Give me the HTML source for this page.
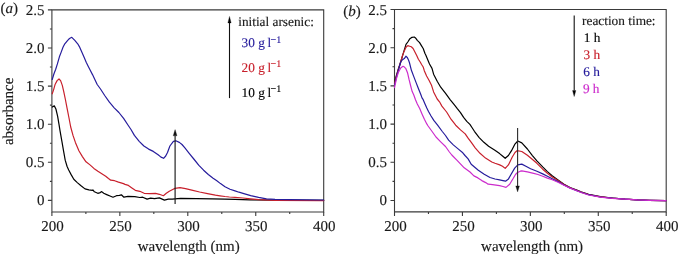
<!DOCTYPE html>
<html><head><meta charset="utf-8"><style>
html,body{margin:0;padding:0;background:#fff;width:678px;height:254px;overflow:hidden}
svg{display:block;will-change:transform}
svg text{text-rendering:geometricPrecision;stroke-width:0.15px;paint-order:stroke}
</style></head><body>
<svg width="678" height="254" viewBox="0 0 678 254" font-family="Liberation Serif, serif" font-size="15px" fill="#1a1a1a" stroke="none">
<path d="M51.9,9.9H323.7V212.0H51.9Z" fill="none" stroke="#3a3a3a" stroke-width="1.1"/>
<text x="52.50" y="231" text-anchor="middle" stroke="#1a1a1a">200</text>
<text x="120.45" y="231" text-anchor="middle" stroke="#1a1a1a">250</text>
<text x="188.40" y="231" text-anchor="middle" stroke="#1a1a1a">300</text>
<text x="256.35" y="231" text-anchor="middle" stroke="#1a1a1a">350</text>
<text x="324.30" y="231" text-anchor="middle" stroke="#1a1a1a">400</text>
<text x="44.40" y="204.75" text-anchor="end" stroke="#1a1a1a">0</text>
<text x="44.40" y="166.75" text-anchor="end" stroke="#1a1a1a">0.5</text>
<text x="44.40" y="128.75" text-anchor="end" stroke="#1a1a1a">1.0</text>
<text x="44.40" y="90.75" text-anchor="end" stroke="#1a1a1a">1.5</text>
<text x="44.40" y="52.75" text-anchor="end" stroke="#1a1a1a">2.0</text>
<text x="44.40" y="14.75" text-anchor="end" stroke="#1a1a1a">2.5</text>
<path d="M51.90,212.0v4 M85.88,212.0v2 M119.85,212.0v4 M153.82,212.0v2 M187.80,212.0v4 M221.78,212.0v2 M255.75,212.0v4 M289.72,212.0v2 M323.70,212.0v4 M51.9,200.40h-4 M51.9,181.35h-2 M51.9,162.30h-4 M51.9,143.25h-2 M51.9,124.20h-4 M51.9,105.15h-2 M51.9,86.10h-4 M51.9,67.05h-2 M51.9,48.00h-4 M51.9,28.95h-2 M51.9,9.90h-4" fill="none" stroke="#3a3a3a" stroke-width="1.1"/>
<text x="188.7" y="250.6" text-anchor="middle" stroke="#1a1a1a">wavelength (nm)</text>
<path d="M394.5,9.5H666.2V211.9H394.5Z" fill="none" stroke="#3a3a3a" stroke-width="1.1"/>
<text x="395.50" y="231" text-anchor="middle" stroke="#1a1a1a">200</text>
<text x="463.43" y="231" text-anchor="middle" stroke="#1a1a1a">250</text>
<text x="531.35" y="231" text-anchor="middle" stroke="#1a1a1a">300</text>
<text x="599.28" y="231" text-anchor="middle" stroke="#1a1a1a">350</text>
<text x="667.20" y="231" text-anchor="middle" stroke="#1a1a1a">400</text>
<text x="387.00" y="204.75" text-anchor="end" stroke="#1a1a1a">0</text>
<text x="387.00" y="166.75" text-anchor="end" stroke="#1a1a1a">0.5</text>
<text x="387.00" y="128.75" text-anchor="end" stroke="#1a1a1a">1.0</text>
<text x="387.00" y="90.75" text-anchor="end" stroke="#1a1a1a">1.5</text>
<text x="387.00" y="52.75" text-anchor="end" stroke="#1a1a1a">2.0</text>
<text x="387.00" y="14.75" text-anchor="end" stroke="#1a1a1a">2.5</text>
<path d="M394.50,211.9v4 M428.46,211.9v2 M462.43,211.9v4 M496.39,211.9v2 M530.35,211.9v4 M564.31,211.9v2 M598.28,211.9v4 M632.24,211.9v2 M666.20,211.9v4 M394.5,200.50h-4 M394.5,181.40h-2 M394.5,162.30h-4 M394.5,143.20h-2 M394.5,124.10h-4 M394.5,105.00h-2 M394.5,85.90h-4 M394.5,66.80h-2 M394.5,47.70h-4 M394.5,28.60h-2 M394.5,9.50h-4" fill="none" stroke="#3a3a3a" stroke-width="1.1"/>
<text x="532.1" y="250.6" text-anchor="middle" stroke="#1a1a1a">wavelength (nm)</text>
<text transform="translate(13.4,111.3) rotate(-90)" text-anchor="middle" stroke="#1a1a1a">absorbance</text>
<text x="0.5" y="12.9" stroke="#1a1a1a">(<tspan font-style="italic">a</tspan>)</text>
<text x="343.2" y="15.5" stroke="#1a1a1a">(<tspan font-style="italic">b</tspan>)</text>
<polyline points="52.2,107.0 54.3,105.9 55.9,109.0 57.6,116.1 59.0,124.3 60.0,130.6 61.9,141.3 63.5,150.7 65.2,160.2 67.1,166.5 68.7,170.0 71.0,174.4 73.8,179.3 77.3,182.6 80.7,185.5 85.0,188.9 88.9,189.8 92.4,190.3 92.9,189.8 94.4,191.8 97.8,193.3 100.3,192.6 101.7,191.6 103.7,193.3 106.7,194.6 110.6,196.2 113.0,197.2 116.5,195.7 119.4,195.3 121.4,194.8 123.9,197.2 128.0,196.3 134.8,196.6 139.8,197.5 142.7,197.2 147.1,199.1 150.6,198.2 154.5,198.7 159.4,197.9 164.4,200.1 168.3,199.2 172.2,199.2 175.0,198.8 180.7,198.4 196.5,198.7 212.2,198.8 225.0,199.1 235.0,199.4 250.0,199.8 275.0,200.1 323.7,200.3" fill="none" stroke="#000000" stroke-width="1.2" stroke-linejoin="round" stroke-linecap="round"/>
<polyline points="52.2,93.8 53.5,90.1 55.2,84.2 57.1,80.6 59.0,79.0 60.6,80.6 62.3,85.4 63.7,91.3 65.4,99.5 67.0,107.8 68.9,117.5 70.7,127.0 73.0,135.4 75.4,142.4 78.9,150.7 82.4,156.6 86.0,161.8 90.0,164.9 93.9,168.4 97.9,171.3 101.8,173.8 105.7,176.2 108.5,178.5 110.7,180.2 114.6,180.7 118.5,182.1 123.5,183.6 125.0,184.4 128.4,185.4 131.9,187.9 135.3,190.3 139.8,191.3 144.2,193.3 149.6,193.6 155.5,193.3 159.4,194.3 163.4,195.7 166.3,193.3 169.3,191.3 173.2,189.3 175.0,188.4 180.0,187.6 185.5,188.6 191.8,190.2 199.6,192.0 207.5,193.6 215.4,195.2 220.0,195.8 225.0,196.5 229.4,197.0 235.0,197.4 242.9,198.0 250.7,198.8 258.6,199.6 275.0,200.4 323.7,200.6" fill="none" stroke="#c8202c" stroke-width="1.2" stroke-linejoin="round" stroke-linecap="round"/>
<polyline points="52.2,79.5 53.9,74.0 55.7,69.2 57.4,63.9 59.4,56.8 61.2,52.1 63.0,47.3 64.8,43.8 67.7,40.3 69.5,38.5 71.8,37.3 74.8,40.3 77.7,43.8 79.8,47.4 81.9,52.3 84.1,57.3 86.2,62.3 88.3,66.5 90.5,70.8 92.5,74.6 97.2,84.5 100.5,89.0 104.7,95.5 109.4,102.2 114.2,107.8 118.9,112.5 123.6,118.4 128.3,125.5 131.0,129.5 134.4,135.4 139.2,141.3 143.9,146.0 148.6,149.1 153.3,151.4 158.1,154.8 161.0,157.1 163.6,158.3 165.7,156.0 167.5,152.5 169.9,146.0 173.4,141.3 175.8,140.8 179.3,142.4 182.0,144.5 184.7,147.7 189.4,153.6 194.2,159.5 198.9,165.4 203.6,170.2 208.3,174.5 213.1,178.2 216.5,180.5 220.5,183.6 225.0,186.8 230.0,189.2 235.0,190.9 239.0,192.2 243.0,193.3 250.7,195.6 258.6,197.4 266.5,198.8 275.0,199.3 290.0,199.6 323.7,200.0" fill="none" stroke="#261c9c" stroke-width="1.2" stroke-linejoin="round" stroke-linecap="round"/>
<polyline points="394.5,82.3 396.4,75.5 398.5,68.5 400.7,62.0 403.1,53.8 406.0,44.4 407.8,42.0 409.6,39.1 412.0,37.3 414.3,37.0 415.5,37.9 417.3,40.3 419.6,42.6 421.4,45.6 423.2,48.5 424.9,53.3 426.0,55.6 426.6,57.0 429.5,64.0 432.0,68.4 433.6,74.2 437.2,81.3 440.7,87.2 445.4,93.1 450.3,99.8 454.2,104.7 457.3,108.7 460.5,112.6 463.6,117.3 466.8,121.3 469.9,124.4 472.3,128.0 474.4,131.3 479.2,137.6 483.9,142.3 488.6,146.3 494.9,150.2 499.6,153.6 502.5,156.0 505.2,158.3 508.4,155.5 511.5,150.7 514.7,144.4 517.8,141.0 521.8,142.9 527.4,149.0 532.2,155.3 536.9,160.8 542.7,166.9 547.4,171.6 552.2,175.7 558.0,179.9 564.0,184.3 570.0,187.6 576.8,190.1 581.0,191.8 588.6,194.3 600.4,196.7 612.2,198.0 625.0,199.2 637.3,199.9 649.1,200.3 666.0,200.6" fill="none" stroke="#000000" stroke-width="1.2" stroke-linejoin="round" stroke-linecap="round"/>
<polyline points="394.5,83.5 396.4,76.5 398.5,69.0 400.7,62.0 402.5,55.6 404.3,50.9 406.0,47.3 407.8,45.6 409.6,46.2 411.3,46.8 413.1,48.5 414.9,52.1 416.7,55.6 418.4,59.2 420.2,62.0 421.6,64.5 423.2,67.0 424.3,70.7 426.6,76.0 429.0,80.2 431.4,84.9 433.6,91.9 437.2,99.0 439.5,101.8 441.9,106.1 446.6,112.0 448.3,114.8 451.0,119.2 455.7,125.2 460.5,129.9 465.2,133.9 468.1,138.2 471.3,142.3 475.2,147.8 480.0,153.3 485.5,158.1 491.8,162.0 495.0,163.3 499.7,164.9 502.5,166.3 505.2,168.4 508.4,164.9 512.3,157.0 515.0,152.5 517.0,150.7 521.8,151.5 527.4,155.3 532.2,159.3 536.9,163.3 542.7,169.2 547.4,173.3 552.2,176.9 558.0,180.5 564.0,184.6 570.0,187.8 576.8,190.3 581.0,192.0 588.6,194.5 600.4,196.8 612.2,198.1 625.0,199.2 637.3,199.9 649.1,200.3 666.0,200.6" fill="none" stroke="#c8202c" stroke-width="1.2" stroke-linejoin="round" stroke-linecap="round"/>
<polyline points="394.5,85.2 396.5,77.0 398.3,70.5 400.7,62.0 402.5,59.7 404.3,58.6 406.0,56.2 407.2,57.4 408.4,59.7 409.4,62.5 411.4,70.3 413.8,76.6 416.2,82.9 417.7,86.8 419.3,90.8 420.9,94.7 422.0,97.9 423.2,99.7 425.0,103.9 426.8,108.0 428.5,111.5 430.9,115.7 433.8,120.4 437.6,125.2 442.3,131.5 445.5,135.5 448.6,140.2 453.3,144.9 458.1,148.9 462.8,152.8 465.0,155.5 468.1,158.9 471.2,164.2 478.3,170.2 484.2,174.3 490.0,177.5 495.0,179.0 499.6,179.8 503.0,180.6 505.5,181.2 508.5,178.9 510.7,175.0 514.7,168.1 517.8,164.9 521.8,164.1 525.9,166.3 530.6,168.7 536.9,171.2 542.7,173.9 547.4,176.3 552.2,178.7 558.0,181.6 564.0,185.0 570.0,188.0 576.8,190.6 581.0,192.2 588.6,194.7 600.4,197.0 612.2,198.2 625.0,199.2 637.3,199.9 649.1,200.3 666.0,200.6" fill="none" stroke="#261c9c" stroke-width="1.2" stroke-linejoin="round" stroke-linecap="round"/>
<polyline points="394.5,87.6 396.6,78.2 398.3,72.6 400.7,67.9 403.0,66.3 404.4,67.1 405.9,68.7 407.5,72.7 409.1,79.7 410.7,86.0 412.2,91.6 413.8,95.0 415.5,99.7 417.3,103.9 419.7,108.6 422.0,113.9 424.4,119.2 426.8,123.9 428.1,126.0 432.1,131.5 436.0,137.0 440.7,141.8 445.5,146.5 449.4,152.0 451.8,155.0 457.1,160.3 464.2,167.8 470.0,172.0 473.9,175.9 477.9,177.9 481.8,180.6 485.7,182.6 488.1,184.2 492.5,184.6 499.6,185.6 503.0,186.5 506.0,187.4 509.7,184.2 513.3,178.3 515.5,174.5 517.0,172.8 520.3,171.2 521.8,170.9 527.4,171.9 533.7,173.4 538.0,174.5 542.7,176.3 547.4,178.1 552.2,179.8 558.0,182.2 564.0,185.3 570.0,188.1 576.8,190.8 581.0,192.5 588.6,195.0 600.4,197.2 612.2,198.3 625.0,199.2 637.3,199.9 649.1,200.3 666.0,200.6" fill="none" stroke="#cc2ccc" stroke-width="1.2" stroke-linejoin="round" stroke-linecap="round"/>
<path d="M175.1,203.9V135.8" stroke="#1a1a1a" stroke-width="1.15" fill="none"/><path d="M175.1,129.6L173.2,135.8L177.0,135.8Z" fill="#111" stroke="#111" stroke-width="0.3"/>
<path d="M517.6,128.0V185.9" stroke="#2a2a2a" stroke-width="1.1" fill="none"/><path d="M517.6,191.9L515.75,185.9L519.45,185.9Z" fill="#111" stroke="#111" stroke-width="0.3"/>
<path d="M229.5,98.1V22.9" stroke="#111" stroke-width="1.1" fill="none"/><path d="M229.5,16.4L227.85,22.9L231.15,22.9Z" fill="#000" stroke="#000" stroke-width="0.3"/>
<path d="M574.2,15.5V90.5" stroke="#111" stroke-width="1.1" fill="none"/><path d="M574.2,96.6L572.5500000000001,90.5L575.85,90.5Z" fill="#000" stroke="#000" stroke-width="0.3"/>
<text font-size="13.3px" x="238.2" y="25.9" stroke="#1a1a1a">initial arsenic:</text>
<text font-size="13.3px" x="241.6" y="47.3" fill="#261c9c" stroke="#261c9c">30 g<tspan x="267.6">l</tspan><tspan x="270.6" dy="-4.8" font-size="10px">−1</tspan></text>
<text font-size="13.3px" x="241.6" y="71.9" fill="#c8202c" stroke="#c8202c">20 g<tspan x="267.6">l</tspan><tspan x="270.6" dy="-4.8" font-size="10px">−1</tspan></text>
<text font-size="13.3px" x="241.6" y="96.6" fill="#000000" stroke="#000000">10 g<tspan x="267.6">l</tspan><tspan x="270.6" dy="-4.8" font-size="10px">−1</tspan></text>
<text font-size="13.3px" x="582.1" y="24.6" stroke="#1a1a1a">reaction time:</text>
<text font-size="13.3px" x="583.8" y="41.9" fill="#000000" stroke="#000000">1 h</text>
<text font-size="13.3px" x="583.6" y="58.9" fill="#c8202c" stroke="#c8202c">3 h</text>
<text font-size="13.3px" x="583.2" y="76.4" fill="#261c9c" stroke="#261c9c">6 h</text>
<text font-size="13.3px" x="582.9" y="93.4" fill="#cc2ccc" stroke="#cc2ccc">9 h</text>
</svg>
</body></html>
